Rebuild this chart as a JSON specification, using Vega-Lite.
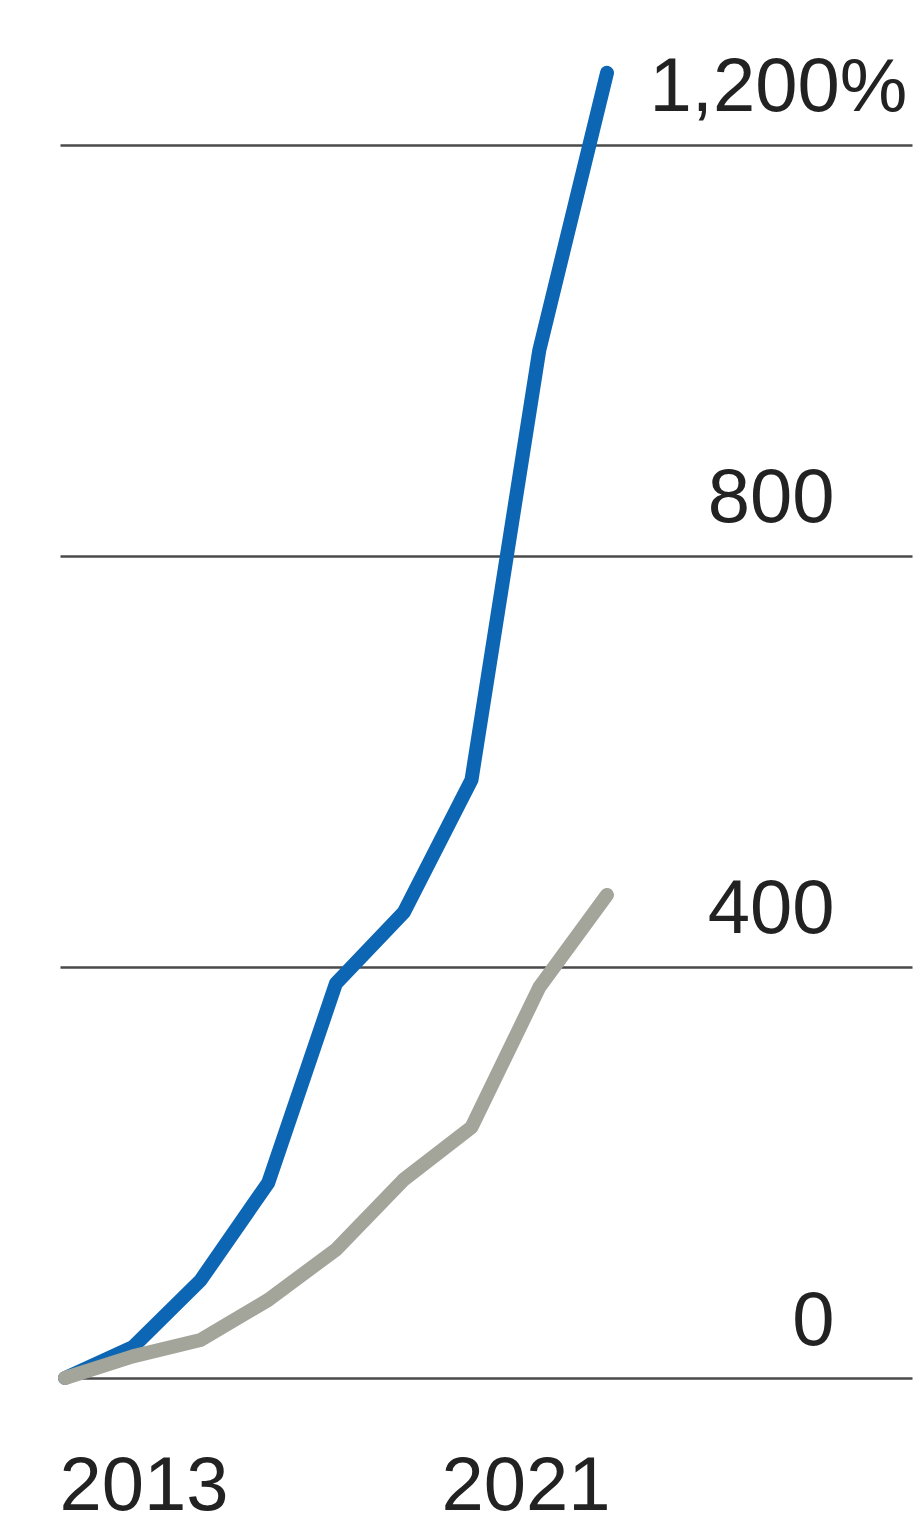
{
  "$schema": "https://vega.github.io/schema/vega-lite/v6.json",
  "autosize": "none",
  "width": 852,
  "height": 1336,
  "padding": {"left": 60, "top": 42, "right": 9, "bottom": 144},
  "background": "white",
  "config": {
    "view": {"stroke": null},
    "font": "Liberation Sans"
  },
  "data": {
    "values": [
      {"year": 2013, "series": "A", "pct": 0},
      {"year": 2014, "series": "A", "pct": 30},
      {"year": 2015, "series": "A", "pct": 95},
      {"year": 2016, "series": "A", "pct": 190},
      {"year": 2017, "series": "A", "pct": 384},
      {"year": 2018, "series": "A", "pct": 453},
      {"year": 2019, "series": "A", "pct": 582},
      {"year": 2020, "series": "A", "pct": 1000},
      {"year": 2021, "series": "A", "pct": 1270},
      {"year": 2013, "series": "B", "pct": 0},
      {"year": 2014, "series": "B", "pct": 21},
      {"year": 2015, "series": "B", "pct": 37},
      {"year": 2016, "series": "B", "pct": 76},
      {"year": 2017, "series": "B", "pct": 125},
      {"year": 2018, "series": "B", "pct": 193},
      {"year": 2019, "series": "B", "pct": 244},
      {"year": 2020, "series": "B", "pct": 380},
      {"year": 2021, "series": "B", "pct": 470}
    ]
  },
  "mark": {"type": "line", "strokeWidth": 14, "strokeCap": "round", "strokeJoin": "round"},
  "encoding": {
    "x": {
      "field": "year",
      "type": "quantitative",
      "scale": {"domain": [2012.926, 2025.502], "nice": false, "zero": false},
      "axis": {
        "title": null,
        "values": [2013, 2021],
        "format": "d",
        "domain": false,
        "ticks": false,
        "tickSize": 0,
        "grid": false,
        "labelFontSize": 76,
        "labelColor": "#222222",
        "labelBaseline": "alphabetic",
        "labelPadding": 131,
        "labelFlush": false,
        "labelOverlap": false,
        "labelBound": false,
        "labelLimit": 0,
        "labelAlign": {"condition": {"test": "datum.value === 2013", "value": "left"}, "value": "right"},
        "labelOffset": {"condition": {"test": "datum.value === 2013", "value": -6}, "value": 3}
      }
    },
    "y": {
      "field": "pct",
      "type": "quantitative",
      "scale": {"domain": [0, 1300], "nice": false},
      "axis": {
        "title": null,
        "orient": "right",
        "values": [0, 400, 800, 1200],
        "labelExpr": "datum.value === 1200 ? '1,200%' : datum.label",
        "domain": false,
        "ticks": false,
        "tickSize": 0,
        "grid": true,
        "gridColor": "#4a4a4a",
        "gridWidth": 2.5,
        "labelFontSize": 76,
        "labelColor": "#222222",
        "labelBaseline": "alphabetic",
        "labelOffset": -34,
        "labelFlush": false,
        "labelOverlap": false,
        "labelBound": false,
        "labelLimit": 0,
        "labelAlign": {"condition": {"test": "datum.value === 1200", "value": "left"}, "value": "right"},
        "labelPadding": {"condition": {"test": "datum.value === 1200", "value": -263}, "value": -78}
      }
    },
    "strokeWidth": {"value": 14},
    "color": {
      "field": "series",
      "type": "nominal",
      "scale": {"domain": ["A", "B"], "range": ["#0d66b3", "#a3a59b"]},
      "legend": null
    }
  }
}
